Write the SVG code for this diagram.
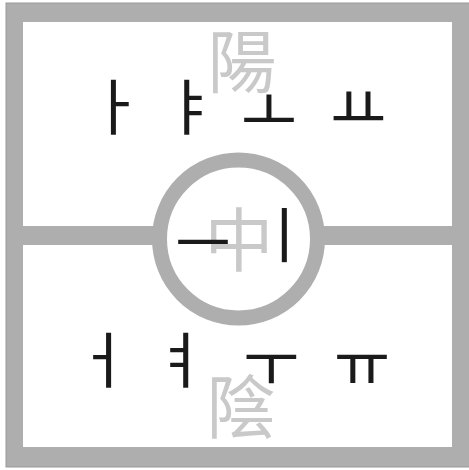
<svg xmlns="http://www.w3.org/2000/svg" width="469" height="470" viewBox="0 0 469 470">
<style>
.frame{fill:#aeaeae;}
.han{font-family:"Noto Sans CJK SC","Noto Sans CJK TC",sans-serif;fill:#c9c9c9;text-anchor:middle;font-size:69px;}
.jamo{font-family:"Noto Sans CJK KR",sans-serif;fill:#1a1a1a;text-anchor:middle;font-size:61px;}
</style>
<rect width="469" height="470" fill="#ffffff"/>
<g id="frame">
<rect x="6" y="3" width="464" height="464" class="frame" stroke="#999" stroke-width="1"/>
<rect x="23" y="22" width="429" height="425" fill="#ffffff"/>
</g>
<g id="connectors">
<rect x="23" y="226" width="429" height="19" class="frame"/>
<circle cx="238.5" cy="239" r="79" fill="#ffffff" stroke="#aeaeae" stroke-width="15"/>
</g>
<g id="yang"><text class="han" x="242" y="88">陽</text></g>
<g id="zhong"><text class="han" x="239" y="266">中</text></g>
<g id="yin"><text class="han" x="241" y="433">陰</text></g>
<g id="a"><text class="jamo" x="115" y="130">ㅏ</text></g>
<g id="ya"><text class="jamo" x="190" y="130">ㅑ</text></g>
<g id="o"><text class="jamo" x="269" y="134">ㅗ</text></g>
<g id="yo"><text class="jamo" x="358" y="131">ㅛ</text></g>
<g id="eu"><text class="jamo" x="203" y="266">ㅡ</text></g>
<g id="i"><text class="jamo" x="284" y="258">ㅣ</text></g>
<g id="eo"><text class="jamo" x="103" y="383">ㅓ</text></g>
<g id="yeo"><text class="jamo" x="180" y="383">ㅕ</text></g>
<g id="u"><text class="jamo" x="271" y="387">ㅜ</text></g>
<g id="yu"><text class="jamo" x="362" y="387">ㅠ</text></g>
</svg>
